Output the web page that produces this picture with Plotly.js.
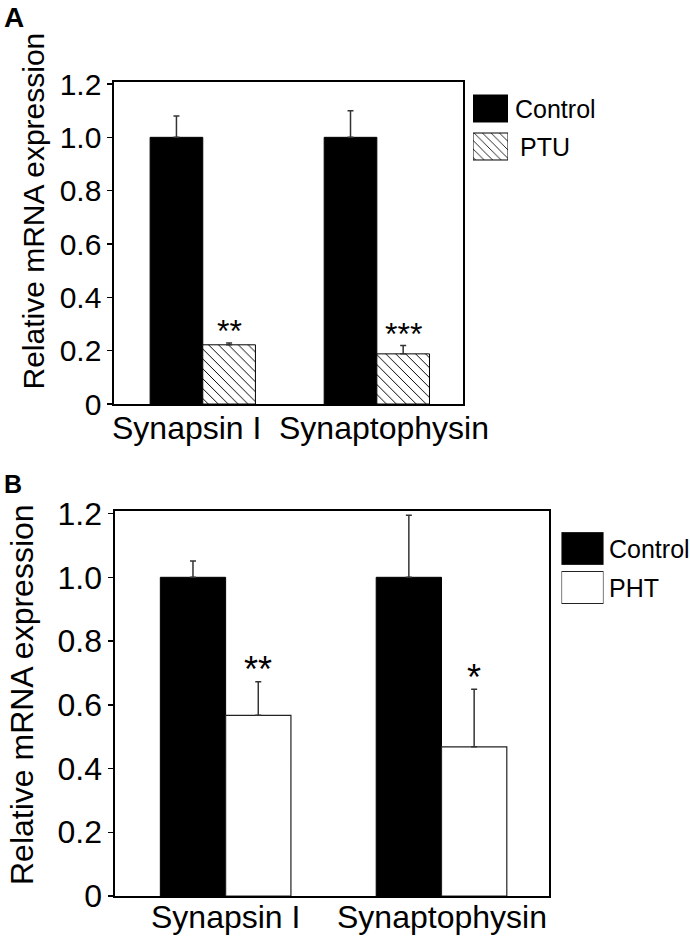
<!DOCTYPE html>
<html>
<head>
<meta charset="utf-8">
<script src="https://cdn.plot.ly/plotly-3.0.1.min.js"></script>
<style>html,body{margin:0;padding:0;background:#fff;}#chart{width:690px;height:937px;}</style>
</head>
<body>
<div id="chart"></div>
<script>
// ---- data ----
const categories = ['Synapsin I', 'Synaptophysin'];

const panelA_control = [1.0, 1.0];
const panelA_controlErr = [0.08, 0.10];
const panelA_ptu = [0.222, 0.188];
const panelA_ptuErr = [0.007, 0.031];
const panelA_sig = ['**', '***'];

const panelB_control = [1.0, 1.0];
const panelB_controlErr = [0.051, 0.195];
const panelB_pht = [0.567, 0.468];
const panelB_phtErr = [0.105, 0.181];
const panelB_sig = ['**', '*'];

const yTickVals = [0, 0.2, 0.4, 0.6, 0.8, 1.0, 1.2];
const yTickText = ['0', '0.2', '0.4', '0.6', '0.8', '1.0', '1.2'];

const legendA_names = ['Control', 'PTU'];
const legendB_names = ['Control', 'PHT'];
const legendSwatch = [1];

// ---- styling ----
const FONT = 'Liberation Sans, Arial, Helvetica, sans-serif';
const W = 690, H = 937;
const px = v => v / W;
const py = v => 1 - v / H;
const BARGAP = 0.395;
const halfOff = (1 - BARGAP) / 4;
const zeros = [0, 0];

const errStyle = (arr) => ({type: 'data', array: arr, arrayminus: zeros, symmetric: false,
  color: '#333', thickness: 1.5, width: 3});

const hatch = (size) => ({shape: '\\', size: size, solidity: 0.14, fgcolor: '#000', bgcolor: '#fff'});

function swatch(slot, xa, ya, w, marker) {
  return {type: 'bar', orientation: 'h', x: legendSwatch, y: [slot], xaxis: xa, yaxis: ya,
    width: w, offset: -w / 2, marker: marker, hoverinfo: 'skip'};
}

const traces = [
  {type: 'bar', x: categories, y: panelA_control, name: 'Control', xaxis: 'x', yaxis: 'y',
   marker: {color: '#000', line: {color: '#000', width: 1}}, error_y: errStyle(panelA_controlErr)},
  {type: 'bar', x: categories, y: panelA_ptu, name: 'PTU', xaxis: 'x', yaxis: 'y',
   marker: {color: '#fff', line: {color: '#000', width: 1}, pattern: hatch(7)},
   error_y: errStyle(panelA_ptuErr)},
  {type: 'bar', x: categories, y: panelB_control, name: 'Control', xaxis: 'x2', yaxis: 'y2',
   marker: {color: '#000', line: {color: '#000', width: 1}}, error_y: errStyle(panelB_controlErr)},
  {type: 'bar', x: categories, y: panelB_pht, name: 'PHT', xaxis: 'x2', yaxis: 'y2',
   marker: {color: '#fff', line: {color: '#222', width: 1.2}}, error_y: errStyle(panelB_phtErr)},
  // legend swatches
  swatch(1, 'x3', 'y3', 0.71, {color: '#000', line: {color: '#000', width: 1}}),
  swatch(0, 'x3', 'y3', 0.71, {color: '#fff', line: {color: '#000', width: 1}, pattern: hatch(6)}),
  swatch(1, 'x4', 'y4', 0.82, {color: '#000', line: {color: '#222', width: 1.2}}),
  swatch(0, 'x4', 'y4', 0.82, {color: '#fff', line: {color: '#222', width: 1.2}})
];

const frameAxis = {showline: true, mirror: true, linecolor: '#000', linewidth: 1.6,
  showgrid: false, zeroline: false, fixedrange: true};

const hidden = {visible: false, showgrid: false, zeroline: false, fixedrange: true};

const annotations = [];
function ann(o) { annotations.push(Object.assign({showarrow: false, font: {family: FONT, size: 25, color: '#000'}}, o)); }

// panel letters
ann({text: '<b>A</b>', xref: 'paper', yref: 'paper', x: px(2), y: py(0), xanchor: 'left', yanchor: 'top', font: {family: FONT, size: 28, color: '#000'}});
ann({text: '<b>B</b>', xref: 'paper', yref: 'paper', x: px(2), y: py(468), xanchor: 'left', yanchor: 'top', font: {family: FONT, size: 25, color: '#000'}});

// y titles
ann({text: 'Relative mRNA expression', xref: 'paper', yref: 'paper', x: px(33), y: py(211.5), xanchor: 'center', yanchor: 'middle', textangle: -90, font: {family: FONT, size: 30, color: '#000'}});
ann({text: 'Relative mRNA expression', xref: 'paper', yref: 'paper', x: px(22), y: py(695), xanchor: 'center', yanchor: 'middle', textangle: -90, font: {family: FONT, size: 32, color: '#000'}});

// category labels
const labelShiftA = [-16, 7];
categories.forEach((c, i) => ann({text: c, xref: 'x', yref: 'y', x: i, y: 0, xanchor: 'center', yanchor: 'top', xshift: labelShiftA[i], yshift: -4, font: {family: FONT, size: 32, color: '#000'}}));
categories.forEach((c, i) => ann({text: c, xref: 'x2', yref: 'y2', x: i, y: 0, xanchor: 'center', yanchor: 'top', yshift: -1, font: {family: FONT, size: 32, color: '#000'}}));

// significance marks
panelA_sig.forEach((s, i) => ann({text: s, xref: 'x', yref: 'y', x: i + halfOff, y: panelA_ptu[i] + panelA_ptuErr[i], yanchor: 'middle', xanchor: 'center', yshift: 12, font: {family: FONT, size: 32, color: '#000'}}));
panelB_sig.forEach((s, i) => ann({text: s, xref: 'x2', yref: 'y2', x: i + halfOff, y: panelB_pht[i] + panelB_phtErr[i], yanchor: 'middle', xanchor: 'center', yshift: 12, font: {family: FONT, size: 36, color: '#000'}}));

// legend texts
ann({text: legendA_names[0], xref: 'paper', yref: 'paper', x: px(513), y: py(109), xanchor: 'left', yanchor: 'middle'});
ann({text: legendA_names[1], xref: 'paper', yref: 'paper', x: px(518), y: py(147), xanchor: 'left', yanchor: 'middle'});
ann({text: legendB_names[0], xref: 'paper', yref: 'paper', x: px(607), y: py(549), xanchor: 'left', yanchor: 'middle'});
ann({text: legendB_names[1], xref: 'paper', yref: 'paper', x: px(607), y: py(588), xanchor: 'left', yanchor: 'middle'});

const layout = {
  width: W, height: H,
  margin: {l: 0, r: 0, t: 0, b: 0},
  paper_bgcolor: '#fff', plot_bgcolor: '#fff',
  showlegend: false,
  barmode: 'group', bargap: BARGAP, bargroupgap: 0,
  font: {family: FONT, color: '#000'},
  xaxis: Object.assign({}, frameAxis, {domain: [px(114), px(463)], range: [-0.51, 1.495], anchor: 'y',
    showticklabels: false, ticks: ''}),
  yaxis: Object.assign({}, frameAxis, {domain: [py(404), py(82)], range: [0, 1.2075], anchor: 'x',
    tickvals: yTickVals, ticktext: yTickText, ticks: 'outside', ticklen: 5, tickwidth: 1.5, tickcolor: '#000',
    tickfont: {family: FONT, size: 30, color: '#000'}}),
  xaxis2: Object.assign({}, frameAxis, {domain: [px(115), px(549)], range: [-0.5125, 1.498], anchor: 'y2',
    showticklabels: false, ticks: ''}),
  yaxis2: Object.assign({}, frameAxis, {domain: [py(896), py(510.7)], range: [0, 1.209], anchor: 'x2',
    tickvals: yTickVals, ticktext: yTickText, ticks: 'outside', ticklen: 5, tickwidth: 1.5, tickcolor: '#000',
    tickfont: {family: FONT, size: 32, color: '#000'}}),
  xaxis3: Object.assign({}, hidden, {domain: [px(473), px(508)], range: [0, 1], anchor: 'y3'}),
  yaxis3: Object.assign({}, hidden, {domain: [py(165.5), py(89.5)], range: [-0.5, 1.5], anchor: 'x3'}),
  xaxis4: Object.assign({}, hidden, {domain: [px(561.5), px(603.5)], range: [0, 1], anchor: 'y4'}),
  yaxis4: Object.assign({}, hidden, {domain: [py(607), py(529)], range: [-0.5, 1.5], anchor: 'x4'}),
  annotations: annotations
};

Plotly.newPlot('chart', traces, layout, {staticPlot: true, displayModeBar: false});
</script>
</body>
</html>
